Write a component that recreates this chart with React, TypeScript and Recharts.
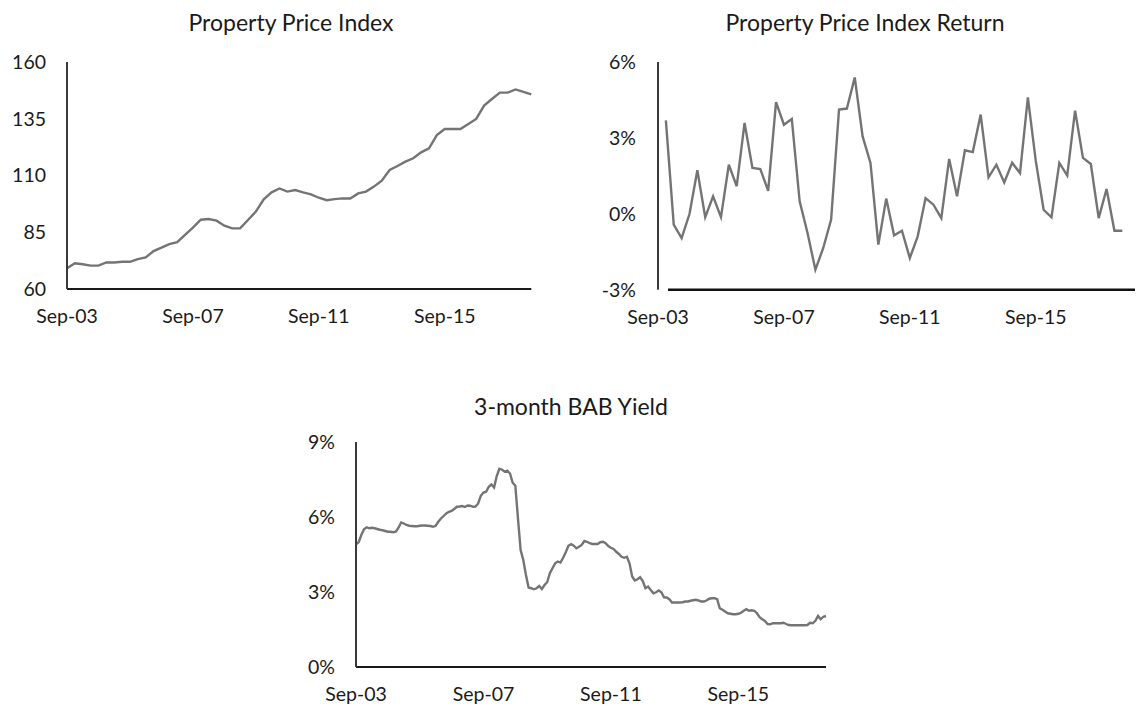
import React from 'react';
import { LineChart, Line, XAxis, YAxis, ReferenceLine } from 'recharts';

// ---- data ----
const quarterTicks = [0, 16, 32, 48];
const quarterTickLabels = ['Sep-03', 'Sep-07', 'Sep-11', 'Sep-15'];
const monthTicks = [0, 48, 96, 144];
const monthTickLabels = ['Sep-03', 'Sep-07', 'Sep-11', 'Sep-15'];

const priceTicks = [60, 85, 110, 135, 160];
const returnTicks = [-3, 0, 3, 6];
const yieldTicks = [0, 3, 6, 9];

// quarterly, Sep-03 .. Jun-18
const priceIndex = [
  69.1, 71.3, 70.9, 70.3, 70.3, 71.7, 71.7, 72.0, 72.0, 73.2,
  73.9, 76.7, 78.2, 79.8, 80.6, 83.8, 87.0, 90.5, 90.8, 90.1,
  87.9, 86.7, 86.7, 90.4, 94.1, 99.5, 102.6, 104.3, 102.9, 103.6,
  102.6, 101.7, 100.2, 99.1, 99.6, 99.9, 99.9, 102.1, 102.9, 105.1,
  107.7, 112.4, 114.2, 116.1, 117.6, 120.2, 122.0, 127.8, 130.5, 130.5,
  130.5, 132.7, 134.9, 140.8, 143.7, 146.5, 146.5, 147.9, 146.8, 145.7,
];

// quarterly return, %
const priceReturn: (number | null)[] = [
  null, 3.69, -0.43, -0.96, -0.01, 1.72, -0.13, 0.69, -0.13, 1.94,
  1.09, 3.59, 1.81, 1.77, 0.91, 4.41, 3.52, 3.75, 0.49, -0.76,
  -2.21, -1.35, -0.23, 4.12, 4.16, 5.39, 3.06, 2.01, -1.22, 0.60,
  -0.85, -0.67, -1.75, -0.89, 0.62, 0.36, -0.17, 2.17, 0.69, 2.51,
  2.44, 3.92, 1.44, 1.94, 1.24, 2.02, 1.61, 4.60, 2.10, 0.16,
  -0.14, 2.01, 1.51, 4.08, 2.21, 1.97, -0.17, 0.98, -0.67, -0.67,
];

// monthly 3-month BAB yield, %, Sep-03 .. Jun-18
const babYield = [
  4.91, 4.99, 5.28, 5.51, 5.59, 5.55, 5.57, 5.55, 5.52, 5.49,
  5.47, 5.44, 5.41, 5.41, 5.39, 5.41, 5.57, 5.78, 5.74, 5.68,
  5.65, 5.64, 5.63, 5.63, 5.65, 5.66, 5.66, 5.65, 5.64, 5.61,
  5.65, 5.81, 5.94, 6.04, 6.14, 6.21, 6.24, 6.32, 6.41, 6.42,
  6.44, 6.40, 6.46, 6.45, 6.41, 6.42, 6.54, 6.85, 6.98, 7.01,
  7.21, 7.30, 7.18, 7.64, 7.93, 7.89, 7.81, 7.85, 7.74, 7.37,
  7.25, 5.94, 4.68, 4.28, 3.68, 3.18, 3.15, 3.11, 3.15, 3.24,
  3.12, 3.28, 3.39, 3.75, 3.95, 4.15, 4.22, 4.18, 4.37, 4.59,
  4.85, 4.91, 4.85, 4.75, 4.81, 4.88, 5.04, 5.01, 4.95, 4.92,
  4.92, 4.92, 4.99, 5.01, 4.95, 4.84, 4.77, 4.72, 4.61, 4.52,
  4.41, 4.37, 4.41, 4.15, 3.62, 3.46, 3.51, 3.59, 3.44, 3.15,
  3.22, 3.08, 2.95, 2.99, 3.06, 2.99, 2.79, 2.78, 2.71, 2.58,
  2.58, 2.58, 2.58, 2.59, 2.62, 2.62, 2.65, 2.67, 2.69, 2.66,
  2.62, 2.62, 2.66, 2.73, 2.75, 2.75, 2.71, 2.35, 2.29, 2.22,
  2.15, 2.13, 2.11, 2.11, 2.13, 2.17, 2.25, 2.31, 2.25, 2.27,
  2.25, 2.15, 1.99, 1.91, 1.84, 1.72, 1.71, 1.75, 1.75, 1.75,
  1.75, 1.77, 1.72, 1.68, 1.67, 1.67, 1.67, 1.67, 1.67, 1.67,
  1.68, 1.77, 1.75, 1.85, 2.04, 1.91, 2.01, 2.04,
];

const titles = ['Property Price Index', 'Property Price Index Return', '3-month BAB Yield'];

// ---- tables for recharts ----
const priceData = priceIndex.map((v, i) => ({ i, v }));
const returnData = priceReturn.map((v, i) => ({ i, v }));
const yieldData = babYield.map((v, i) => ({ i, v }));

const FONT = 'Lato, "Liberation Sans", sans-serif';
const TEXT = '#1a1a1a';
const LINE = '#747474';
const tickStyle = { fill: TEXT, fontSize: 19.5, fontFamily: FONT };

const qFmt = (v: number) => quarterTickLabels[quarterTicks.indexOf(v)] ?? '';
const mFmt = (v: number) => monthTickLabels[monthTicks.indexOf(v)] ?? '';
const pct = (v: number) => `${v}%`;

export default function App() {
  return (
    <div
      style={{
        position: 'absolute',
        left: 0,
        top: 0,
        width: 1137,
        height: 711,
        overflow: 'hidden',
        background: '#fff',
      }}
    >
      {/* Chart 1 */}
      <div style={{ position: 'absolute', left: 6.7, top: 42 }}>
        <LineChart width={534.3} height={297} data={priceData} margin={{ top: 20, right: 10, bottom: 0, left: 0 }}>
          <XAxis
            dataKey="i"
            type="number"
            domain={[0, 59]}
            ticks={quarterTicks}
            tickFormatter={qFmt}
            interval={0}
            height={50}
            axisLine={{ stroke: '#1a1a1a', strokeWidth: 2 }}
            tickLine={false}
            tickSize={0}
            tickMargin={20}
            tick={tickStyle}
          />
          <YAxis
            type="number"
            domain={[60, 160]}
            ticks={priceTicks}
            interval={0}
            width={60}
            axisLine={{ stroke: '#3a3a3a', strokeWidth: 2 }}
            tickLine={false}
            tickSize={0}
            tickMargin={21}
            tick={tickStyle}
          />
          <Line dataKey="v" stroke={LINE} strokeWidth={2.4} dot={false} isAnimationActive={false} />
        </LineChart>
      </div>

      {/* Chart 2 */}
      <div style={{ position: 'absolute', left: 597.7, top: 42.3 }}>
        <LineChart width={537.3} height={297.7} data={returnData} margin={{ top: 20, right: 0, bottom: 0, left: 0 }}>
          <XAxis
            dataKey="i"
            type="number"
            domain={[0, 60.65]}
            allowDataOverflow
            ticks={quarterTicks}
            tickFormatter={qFmt}
            interval={0}
            height={50}
            axisLine={false}
            tickLine={false}
            tickSize={0}
            tickMargin={20}
            tick={tickStyle}
          />
          <YAxis
            type="number"
            domain={[-3, 6]}
            ticks={returnTicks}
            tickFormatter={pct}
            interval={0}
            width={60}
            axisLine={{ stroke: '#3a3a3a', strokeWidth: 2 }}
            tickLine={false}
            tickSize={0}
            tickMargin={22}
            tick={tickStyle}
          />
          <ReferenceLine
            segment={[
              { x: 1.27, y: -3 },
              { x: 60.65, y: -3 },
            ]}
            stroke="#111"
            strokeWidth={2.5}
            ifOverflow="visible"
          />
          <Line dataKey="v" stroke={LINE} strokeWidth={2.4} dot={false} isAnimationActive={false} />
        </LineChart>
      </div>

      {/* Chart 3 */}
      <div style={{ position: 'absolute', left: 296, top: 422 }}>
        <LineChart width={540} height={295} data={yieldData} margin={{ top: 20, right: 10, bottom: 0, left: 0 }}>
          <XAxis
            dataKey="i"
            type="number"
            domain={[0, 177]}
            ticks={monthTicks}
            tickFormatter={mFmt}
            interval={0}
            height={50}
            axisLine={{ stroke: '#1a1a1a', strokeWidth: 2 }}
            tickLine={false}
            tickSize={0}
            tickMargin={20}
            tick={tickStyle}
          />
          <YAxis
            type="number"
            domain={[0, 9]}
            ticks={yieldTicks}
            tickFormatter={pct}
            interval={0}
            width={60}
            axisLine={{ stroke: '#3a3a3a', strokeWidth: 2 }}
            tickLine={false}
            tickSize={0}
            tickMargin={21}
            tick={tickStyle}
          />
          <Line dataKey="v" stroke={LINE} strokeWidth={2.4} dot={false} isAnimationActive={false} />
        </LineChart>
      </div>

      {/* Titles */}
      <svg
        width={1137}
        height={711}
        style={{ position: 'absolute', left: 0, top: 0, pointerEvents: 'none' }}
      >
        <text x={291} y={31} textAnchor="middle" fontFamily={FONT} fontSize={23} fill={TEXT}>
          {titles[0]}
        </text>
        <text x={865} y={31} textAnchor="middle" fontFamily={FONT} fontSize={23} fill={TEXT}>
          {titles[1]}
        </text>
        <text x={571} y={415} textAnchor="middle" fontFamily={FONT} fontSize={23} fill={TEXT}>
          {titles[2]}
        </text>
      </svg>
    </div>
  );
}
